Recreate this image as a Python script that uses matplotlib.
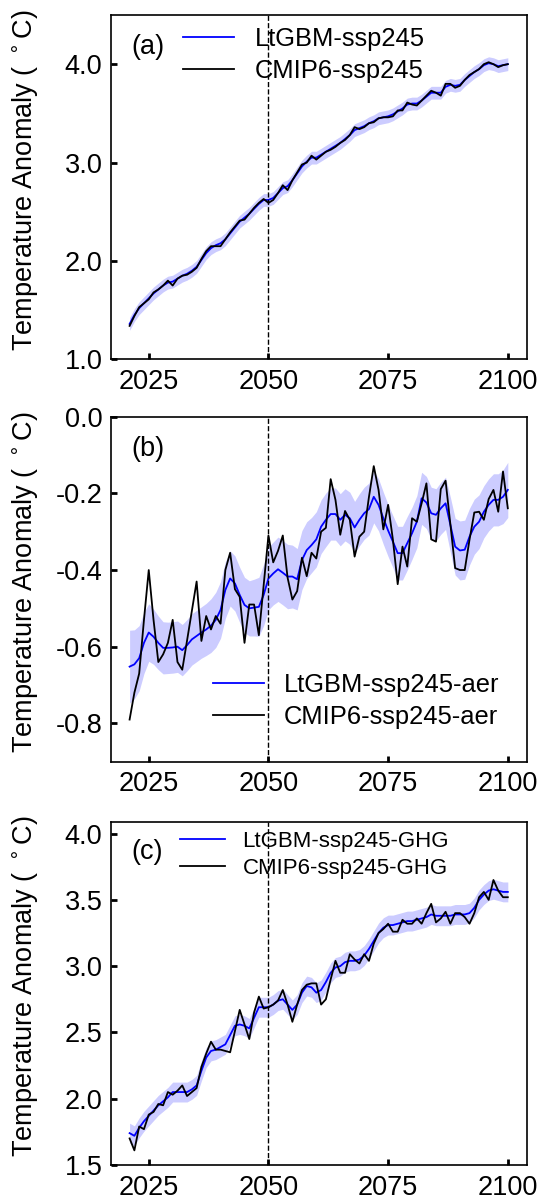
import numpy as np
from matplotlib import pyplot as plt

plt.rcParams['font.family'] = ['Liberation Sans', 'DejaVu Sans']

years = np.arange(2021, 2101)

# panel (a) ssp245
a_cmip = [1.34, 1.44, 1.53, 1.57, 1.61, 1.68, 1.71, 1.75, 1.80, 1.75,
          1.82, 1.85, 1.86, 1.89, 1.93, 2.02, 2.10, 2.15, 2.15, 2.15,
          2.22, 2.29, 2.35, 2.41, 2.42, 2.48, 2.54, 2.59, 2.63, 2.59,
          2.62, 2.69, 2.77, 2.72, 2.82, 2.90, 2.98, 3.00, 3.07, 3.03,
          3.07, 3.11, 3.13, 3.16, 3.20, 3.23, 3.28, 3.36, 3.34, 3.36,
          3.40, 3.41, 3.45, 3.46, 3.46, 3.47, 3.53, 3.53, 3.61, 3.59,
          3.58, 3.63, 3.68, 3.73, 3.71, 3.68, 3.80, 3.80, 3.76, 3.78,
          3.84, 3.89, 3.92, 3.95, 4.00, 4.02, 4.00, 3.97, 3.99, 4.00]
a_gbm = [1.36, 1.45, 1.52, 1.57, 1.62, 1.67, 1.71, 1.75, 1.78, 1.79,
         1.82, 1.85, 1.87, 1.90, 1.94, 2.01, 2.08, 2.13, 2.16, 2.18,
         2.22, 2.28, 2.34, 2.40, 2.44, 2.48, 2.53, 2.58, 2.62, 2.62,
         2.64, 2.69, 2.74, 2.76, 2.82, 2.89, 2.96, 3.01, 3.05, 3.05,
         3.08, 3.11, 3.14, 3.17, 3.20, 3.24, 3.28, 3.33, 3.35, 3.37,
         3.40, 3.42, 3.45, 3.46, 3.47, 3.49, 3.52, 3.55, 3.59, 3.60,
         3.60, 3.63, 3.67, 3.71, 3.71, 3.71, 3.77, 3.79, 3.78, 3.79,
         3.84, 3.88, 3.92, 3.95, 3.99, 4.01, 4.00, 3.98, 3.99, 4.00]
a_spread = 0.065

# panel (b) ssp245-aer
b_cmip = [-0.79, -0.72, -0.67, -0.53, -0.40, -0.53, -0.64, -0.62, -0.59, -0.53,
          -0.64, -0.66, -0.584, -0.507, -0.43, -0.585, -0.52, -0.555, -0.52, -0.54,
          -0.40, -0.355, -0.45, -0.47, -0.59, -0.49, -0.49, -0.57, -0.44, -0.31,
          -0.38, -0.35, -0.31, -0.42, -0.477, -0.455, -0.368, -0.416, -0.355, -0.37,
          -0.30, -0.29, -0.163, -0.217, -0.308, -0.246, -0.269, -0.365, -0.313, -0.30,
          -0.209, -0.129, -0.191, -0.294, -0.23, -0.321, -0.437, -0.339, -0.391, -0.265,
          -0.274, -0.226, -0.174, -0.32, -0.326, -0.189, -0.167, -0.28, -0.395, -0.40,
          -0.40, -0.321, -0.25, -0.248, -0.269, -0.215, -0.191, -0.248, -0.143, -0.239]
b_gbm = [-0.652, -0.646, -0.63, -0.59, -0.563, -0.574, -0.59, -0.603, -0.603, -0.602,
         -0.60, -0.609, -0.596, -0.581, -0.572, -0.563, -0.555, -0.545, -0.53, -0.504,
         -0.452, -0.422, -0.435, -0.465, -0.491, -0.50, -0.498, -0.496, -0.465, -0.422,
         -0.409, -0.398, -0.407, -0.417, -0.417, -0.424, -0.374, -0.348, -0.335, -0.32,
         -0.287, -0.269, -0.254, -0.254, -0.269, -0.256, -0.265, -0.289, -0.269, -0.252,
         -0.241, -0.209, -0.23, -0.265, -0.297, -0.326, -0.356, -0.356, -0.33, -0.304,
         -0.274, -0.213, -0.224, -0.252, -0.256, -0.239, -0.226, -0.282, -0.339, -0.349,
         -0.347, -0.313, -0.287, -0.274, -0.248, -0.23, -0.217, -0.217, -0.209, -0.191]
b_spread = [0.095, 0.09, 0.085, 0.08, 0.075, 0.072, 0.07, 0.068, 0.067, 0.067,
            0.067, 0.067, 0.067, 0.067, 0.067, 0.067, 0.068, 0.07, 0.072, 0.074,
            0.074, 0.072, 0.072, 0.072, 0.072, 0.072, 0.074, 0.077, 0.08, 0.082,
            0.082, 0.084, 0.084, 0.084, 0.082, 0.08, 0.077, 0.074, 0.072, 0.072,
            0.07, 0.07, 0.068, 0.068, 0.068, 0.068, 0.068, 0.068, 0.068, 0.068,
            0.068, 0.068, 0.068, 0.068, 0.068, 0.068, 0.07, 0.07, 0.07, 0.068,
            0.068, 0.068, 0.068, 0.068, 0.068, 0.068, 0.068, 0.072, 0.074, 0.077,
            0.077, 0.074, 0.072, 0.07, 0.068, 0.068, 0.068, 0.068, 0.07, 0.072]

# panel (c) ssp245-GHG
c_cmip = [1.70, 1.61, 1.79, 1.77, 1.88, 1.90, 1.96, 1.95, 2.05, 2.03,
          2.06, 2.10, 2.02, 2.05, 2.08, 2.24, 2.34, 2.43, 2.37, 2.37,
          2.36, 2.35, 2.51, 2.67, 2.56, 2.45, 2.65, 2.77, 2.68, 2.69,
          2.71, 2.74, 2.82, 2.71, 2.58, 2.71, 2.82, 2.86, 2.87, 2.87,
          2.71, 2.75, 2.90, 3.04, 2.95, 2.95, 3.09, 3.05, 3.02, 3.09,
          3.04, 3.17, 3.25, 3.28, 3.32, 3.26, 3.26, 3.35, 3.32, 3.32,
          3.36, 3.32, 3.40, 3.47, 3.33, 3.36, 3.41, 3.32, 3.40, 3.40,
          3.37, 3.32, 3.40, 3.52, 3.56, 3.50, 3.65, 3.57, 3.52, 3.52]
c_gbm = [1.74, 1.72, 1.78, 1.83, 1.87, 1.91, 1.95, 1.98, 2.01, 2.05,
         2.05, 2.05, 2.05, 2.07, 2.10, 2.21, 2.31, 2.36, 2.37, 2.39,
         2.41, 2.48, 2.55, 2.56, 2.55, 2.53, 2.61, 2.69, 2.69, 2.69,
         2.71, 2.74, 2.75, 2.71, 2.67, 2.71, 2.80, 2.85, 2.84, 2.80,
         2.82, 2.88, 2.95, 2.99, 3.00, 3.03, 3.04, 3.04, 3.05, 3.08,
         3.13, 3.19, 3.25, 3.29, 3.31, 3.31, 3.32, 3.33, 3.34, 3.34,
         3.35, 3.36, 3.37, 3.39, 3.38, 3.38, 3.38, 3.38, 3.39, 3.39,
         3.39, 3.40, 3.44, 3.50, 3.54, 3.57, 3.58, 3.57, 3.56, 3.56]
c_spread = 0.075

panels = [
    ('(a)', a_gbm, a_cmip, a_spread, ['LtGBM-ssp245', 'CMIP6-ssp245'],
     (1.0, 4.5), [1.0, 2.0, 3.0, 4.0]),
    ('(b)', b_gbm, b_cmip, b_spread, ['LtGBM-ssp245-aer', 'CMIP6-ssp245-aer'],
     (-0.9, 0.0), [-0.8, -0.6, -0.4, -0.2, 0.0]),
    ('(c)', c_gbm, c_cmip, c_spread, ['LtGBM-ssp245-GHG', 'CMIP6-ssp245-GHG'],
     (1.5, 4.09), [1.5, 2.0, 2.5, 3.0, 3.5, 4.0]),
]

fig = plt.figure(figsize=(5.41, 11.99), dpi=100)
rects = [[0.2046, 0.7003, 0.769, 0.2872],
         [0.2046, 0.3647, 0.769, 0.2878],
         [0.2046, 0.0284, 0.769, 0.2863]]
leg_pos = [(0.1745, 0.965), (0.245, 0.257), (0.167, 0.974)]
leg_size = [18.4, 18.4, 16]
lab_y = [0.908, 0.906, 0.912]

for i, (tag, gbm, cmip, spread, names, ylim, yticks) in enumerate(panels):
    ax = fig.add_axes(rects[i])
    gbm = np.array(gbm)
    sp = np.array(spread)
    ax.fill_between(years, gbm - sp, gbm + sp, color='blue', alpha=0.2, lw=0)
    ax.plot(years, gbm, color='blue', lw=1.3, label=names[0])
    ax.plot(years, cmip, color='black', lw=1.3, label=names[1])
    ax.axvline(2050, color='black', lw=1, ls='--')
    ax.set_xlim(2017.05, 2103.95)
    ax.set_ylim(*ylim)
    ax.set_xticks([2025, 2050, 2075, 2100])
    ax.set_yticks(yticks)
    ax.set_yticklabels(['%.1f' % t for t in yticks])
    ax.tick_params(direction='in', length=4, width=2, labelsize=19.5)
    ax.tick_params(axis='x', pad=7)
    ax.tick_params(axis='y', pad=6)
    for s in ax.spines.values():
        s.set_linewidth(1.2)
    ax.set_ylabel(r'Temperature Anomaly ( $^\circ$C)', fontsize=19.5)
    ax.yaxis.set_label_coords(-0.17, 0.52)
    ax.text(0.05, lab_y[i], tag, transform=ax.transAxes, fontsize=19.5,
            va='center', ha='left')
    ax.legend(loc='upper left', bbox_to_anchor=leg_pos[i], frameon=False,
              fontsize=leg_size[i], borderpad=0, borderaxespad=0,
              labelspacing=0.3, handlelength=2.0, handletextpad=0.8)

plt.savefig('out.png', dpi=100)
